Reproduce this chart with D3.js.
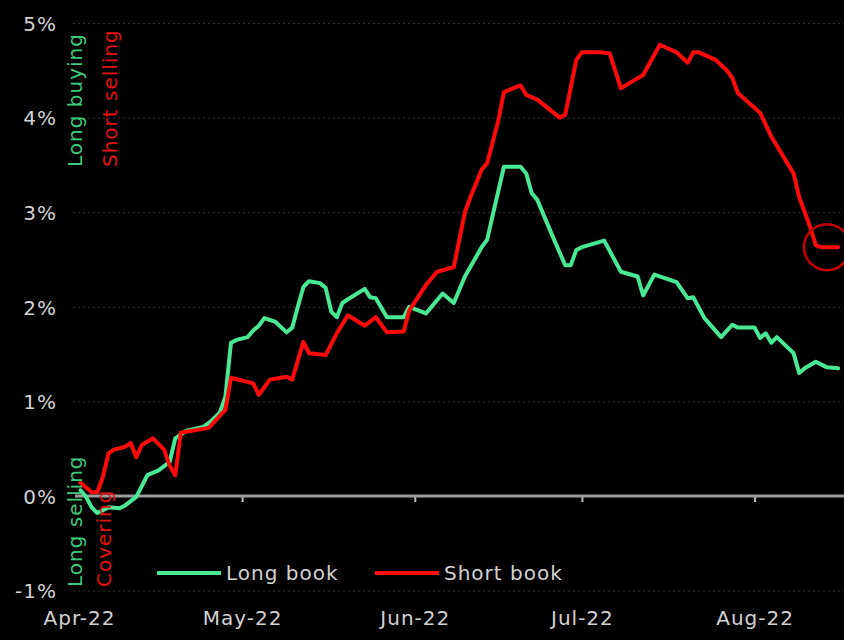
<!DOCTYPE html>
<html>
<head>
<meta charset="utf-8">
<script src="https://cdn.jsdelivr.net/npm/d3@7"></script>
<style>
  html, body { margin: 0; padding: 0; background: #000; }
  svg { display: block; }
  text { font-family: "DejaVu Sans", sans-serif; }
</style>
</head>
<body>
<svg id="chart" width="844" height="640"></svg>
<script>
// ---------------- DATA ----------------
const longDates = ["2022-04-02","2022-04-03","2022-04-04","2022-04-05","2022-04-07","2022-04-09","2022-04-10","2022-04-12","2022-04-14","2022-04-16","2022-04-18","2022-04-19","2022-04-21","2022-04-24","2022-04-25","2022-04-27","2022-04-28","2022-04-29","2022-04-30",
"2022-05-02","2022-05-03","2022-05-04","2022-05-05","2022-05-07","2022-05-09","2022-05-10","2022-05-11","2022-05-12","2022-05-13","2022-05-15","2022-05-16","2022-05-17","2022-05-18","2022-05-19","2022-05-20","2022-05-23","2022-05-24","2022-05-25","2022-05-27","2022-05-30","2022-05-31",
"2022-06-03","2022-06-06","2022-06-08","2022-06-10","2022-06-13","2022-06-14","2022-06-15","2022-06-17","2022-06-20","2022-06-21","2022-06-22","2022-06-23","2022-06-26","2022-06-28","2022-06-29","2022-06-30",
"2022-07-01","2022-07-05","2022-07-08","2022-07-11","2022-07-12","2022-07-14","2022-07-18","2022-07-20","2022-07-21","2022-07-23","2022-07-26","2022-07-28","2022-07-29",
"2022-08-01","2022-08-02","2022-08-03","2022-08-04","2022-08-05","2022-08-08","2022-08-09","2022-08-10","2022-08-12","2022-08-14","2022-08-16"];
const longValues = [0.06,-0.01,-0.12,-0.18,-0.12,-0.13,-0.10,-0.01,0.22,0.27,0.36,0.61,0.69,0.73,0.77,0.88,1.05,1.62,1.65,
1.68,1.75,1.80,1.88,1.84,1.73,1.78,2.00,2.21,2.27,2.25,2.20,1.95,1.89,2.04,2.08,2.19,2.10,2.09,1.89,1.89,2.00,
1.93,2.14,2.04,2.32,2.63,2.71,2.97,3.48,3.48,3.41,3.20,3.13,2.71,2.44,2.44,2.60,
2.63,2.70,2.37,2.32,2.12,2.34,2.26,2.09,2.10,1.88,1.68,1.81,1.78,
1.78,1.67,1.72,1.62,1.68,1.51,1.30,1.35,1.42,1.36,1.35];

const shortDates = ["2022-04-02","2022-04-04","2022-04-05","2022-04-06","2022-04-07","2022-04-08","2022-04-10","2022-04-11","2022-04-12","2022-04-13","2022-04-15","2022-04-17","2022-04-18","2022-04-19","2022-04-20","2022-04-21","2022-04-25","2022-04-27","2022-04-28","2022-04-29",
"2022-05-03","2022-05-04","2022-05-06","2022-05-09","2022-05-10","2022-05-12","2022-05-13","2022-05-16","2022-05-18","2022-05-20","2022-05-23","2022-05-25","2022-05-27","2022-05-30","2022-05-31",
"2022-06-03","2022-06-05","2022-06-08","2022-06-09","2022-06-10","2022-06-11","2022-06-13","2022-06-14","2022-06-16","2022-06-17","2022-06-20","2022-06-21","2022-06-23","2022-06-27","2022-06-28","2022-06-30",
"2022-07-01","2022-07-04","2022-07-06","2022-07-08","2022-07-10","2022-07-12","2022-07-15","2022-07-18","2022-07-20","2022-07-21","2022-07-22","2022-07-25","2022-07-27","2022-07-28","2022-07-29",
"2022-08-02","2022-08-04","2022-08-08","2022-08-09","2022-08-11","2022-08-12","2022-08-13","2022-08-16"];
const shortValues = [0.14,0.04,0.04,0.20,0.45,0.49,0.52,0.56,0.41,0.54,0.61,0.49,0.32,0.22,0.67,0.68,0.72,0.85,0.91,1.25,
1.19,1.07,1.23,1.26,1.23,1.63,1.51,1.49,1.72,1.91,1.80,1.89,1.73,1.74,1.96,
2.23,2.37,2.42,2.71,3.00,3.16,3.45,3.52,3.97,4.27,4.34,4.24,4.19,4.00,4.03,4.61,
4.69,4.69,4.68,4.31,4.38,4.45,4.77,4.69,4.58,4.69,4.69,4.61,4.50,4.42,4.26,
4.05,3.80,3.41,3.16,2.84,2.65,2.63,2.63];

const yTicks = [-1, 0, 1, 2, 3, 4, 5];
const monthTicks = ["2022-04-01","2022-05-01","2022-06-01","2022-07-01","2022-08-01"];
const seriesNames = ["Long book", "Short book"];
const highlight = { date: "2022-08-14", value: 2.63 };   // circled end of short book

// ---------------- SETUP ----------------
const parse = d3.timeParse("%Y-%m-%d");
const svg = d3.select("#chart");
const W = 844, H = 640;
const GREEN = "#48e894", RED = "#ff0a0a";
const TEXT = "#d2d2d2";

const x = d3.scaleTime()
  .domain([parse("2022-04-01"), parse("2022-08-17")])
  .range([75, 843.7]);
const y = d3.scaleLinear().domain([-1, 5]).range([590.6, 23]);

svg.append("rect").attr("width", W).attr("height", H).attr("fill", "#000");

// gridlines (faint dotted)
const grid = svg.append("g")
  .attr("transform", `translate(73,0)`)
  .call(d3.axisLeft(y).tickValues(yTicks.filter(v => v !== 0)).tickSize(-(W - 73)).tickFormat(""));
grid.select(".domain").remove();
grid.selectAll(".tick line")
  .attr("stroke", "#303030").attr("stroke-width", 1).attr("stroke-dasharray", "2,3");

// y labels
const yAx = svg.append("g")
  .attr("transform", `translate(57,0)`)
  .call(d3.axisLeft(y).tickValues(yTicks).tickSize(0).tickPadding(0).tickFormat(d => d + "%"));
yAx.select(".domain").remove();
yAx.selectAll("text")
  .attr("fill", TEXT).style("font-size", "20px").style("letter-spacing", "1px")
  .attr("dy", "0.36em");

// zero line with ticks
const zAx = svg.append("g")
  .attr("transform", `translate(0,${y(0)})`)
  .call(d3.axisBottom(x).tickValues(monthTicks.slice(1).map(parse)).tickSize(6).tickFormat(""));
zAx.select(".domain").remove();
zAx.selectAll(".tick line").attr("stroke", "#bdbdbd").attr("stroke-width", 2);
svg.append("line")
  .attr("x1", x(parse("2022-04-01"))).attr("x2", W)
  .attr("y1", y(0)).attr("y2", y(0))
  .attr("stroke", "#9c9c9c").attr("stroke-width", 3);

// x labels
const xAx = svg.append("g")
  .attr("transform", `translate(0,611)`)
  .call(d3.axisBottom(x).tickValues(monthTicks.map(parse)).tickSize(0).tickPadding(0)
    .tickFormat(d3.timeFormat("%b-%y")));
xAx.select(".domain").remove();
xAx.selectAll("text")
  .attr("fill", TEXT).style("font-size", "20px").style("letter-spacing", "1px")
  .attr("dy", "0.71em");
xAx.selectAll(".tick").filter((d, i) => i === 0).select("text").attr("dx", 4);

// lines
const line = d3.line().x(d => x(d.date)).y(d => y(d.value)).curve(d3.curveLinear);
const longData = longDates.map((d, i) => ({ date: parse(d), value: longValues[i] }));
const shortData = shortDates.map((d, i) => ({ date: parse(d), value: shortValues[i] }));

svg.append("path").datum(longData).attr("d", line)
  .attr("fill", "none").attr("stroke", GREEN).attr("stroke-width", 4)
  .attr("stroke-linejoin", "round").attr("stroke-linecap", "round");
svg.append("path").datum(shortData).attr("d", line)
  .attr("fill", "none").attr("stroke", RED).attr("stroke-width", 4)
  .attr("stroke-linejoin", "round").attr("stroke-linecap", "round");

// highlight circle
svg.append("circle")
  .attr("cx", x(parse(highlight.date))).attr("cy", y(highlight.value))
  .attr("r", 23).attr("fill", "none").attr("stroke", "#c40000").attr("stroke-width", 2.5);

// rotated annotations
function vtext(txt, xBase, yStart, color) {
  svg.append("text")
    .attr("transform", `translate(${xBase},${yStart}) rotate(-90)`)
    .attr("fill", color).style("font-size", "20px").style("letter-spacing", "1px")
    .text(txt);
}
vtext("Long buying", 82, 167, "#3ec97c");
vtext("Short selling", 117, 167, "#e01212");
vtext("Long selling", 82, 587, "#3ec97c");
vtext("Covering", 111, 587, "#e01212");

// legend
const legendItems = [
  { name: seriesNames[0], color: GREEN, x0: 157 },
  { name: seriesNames[1], color: RED, x0: 375 }
];
const lg = svg.append("g");
legendItems.forEach(it => {
  lg.append("line").attr("x1", it.x0).attr("x2", it.x0 + 64)
    .attr("y1", 573).attr("y2", 573).attr("stroke", it.color).attr("stroke-width", 4);
  lg.append("text").attr("x", it.x0 + 69).attr("y", 580)
    .attr("fill", TEXT).style("font-size", "20px").style("letter-spacing", "1px")
    .text(it.name);
});
</script>
</body>
</html>
